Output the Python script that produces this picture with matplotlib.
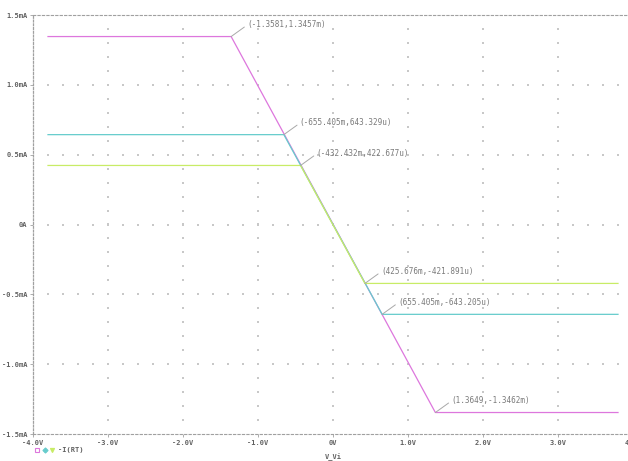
"""PSpice style DC sweep: -I(RT) versus V_Vi, three traces with cursor marks."""

import matplotlib
import numpy as np

matplotlib.use("Agg")
from matplotlib import pyplot as plt

# =========================================================================
# Dane (prad w mA, napiecie w V)
# =========================================================================

sweep_start = -3.8
sweep_end = 3.8

# punkty zalamania kazdej krzywej: (x_lewy, y_gora, x_prawy, y_dol)
trace_names = ["magenta", "cyan", "lime"]
knee_left_x = [-1.3581, -0.655405, -0.432432]
knee_left_y = [1.3457, 0.643329, 0.422677]
knee_right_x = [1.3649, 0.655405, 0.425676]
knee_right_y = [-1.3462, -0.643205, -0.421891]

left_labels = ["(-1.3581,1.3457m)", "(-655.405m,643.329u)", "(-432.432m,422.677u)"]
right_labels = ["(1.3649,-1.3462m)", "(655.405m,-643.205u)", "(425.676m,-421.891u)"]

x_ticks = [-4, -3, -2, -1, 0, 1, 2, 3, 4]
x_tick_labels = ["-4.0V", "-3.0V", "-2.0V", "-1.0V", "0V", "1.0V", "2.0V", "3.0V", "4.0V"]
y_ticks = [-1.5, -1.0, -0.5, 0, 0.5, 1.0, 1.5]
y_tick_labels = ["-1.5mA", "-1.0mA", "-0.5mA", "0A", "0.5mA", "1.0mA", "1.5mA"]

COLORS = {"magenta": "#dd77dd", "cyan": "#66cccc", "lime": "#c8ec66"}
GRAY = "#7a7a7a"
MONO = "DejaVu Sans Mono"

# =========================================================================
# Wykres
# =========================================================================

W, H = 628, 461
fig = plt.figure(figsize=(W / 100, H / 100), dpi=100, facecolor="white")
ax = fig.add_axes([33 / W, 27 / H, 600 / W, 419 / H])
ax.set_xlim(-4, 4)
ax.set_ylim(-1.5, 1.5)

# siatka z kropek
gx = np.arange(-3.8, 4.001, 0.2)
gy = np.arange(-1.4, 1.401, 0.1)
for yv in y_ticks[1:-1]:
    ax.scatter(gx, np.full_like(gx, yv), s=0.8, marker="s", color="#c8c8c8", linewidths=0, zorder=1)
for xv in x_ticks[1:-1]:
    ax.scatter(np.full_like(gy, xv), gy, s=0.8, marker="s", color="#c8c8c8", linewidths=0, zorder=1)

for name, x1, y1, x2, y2 in zip(trace_names, knee_left_x, knee_left_y, knee_right_x, knee_right_y):
    ax.plot([sweep_start, x1, x2, sweep_end], [y1, y1, y2, y2],
            color=COLORS[name], lw=0.9, zorder=3 if name != "magenta" else 2)

# opisy kursorow
arrow = dict(arrowstyle="-", color="#a8a8a8", lw=0.7, shrinkA=0, shrinkB=0, relpos=(0, 0.45))
for xs, ys, labs in ((knee_left_x, knee_left_y, left_labels), (knee_right_x, knee_right_y, right_labels)):
    for xv, yv, lab in zip(xs, ys, labs):
        ax.annotate(lab, (xv, yv), xytext=(11.5, 8.6), textcoords="offset points",
                    ha="left", va="center", fontsize=5.5, family=MONO, color=GRAY,
                    arrowprops=arrow)

# osie
for side in ("top", "bottom"):
    ax.spines[side].set_color("#a0a0a0")
    ax.spines[side].set_linestyle((0, (2, 2)))
    ax.spines[side].set_linewidth(0.8)
ax.spines["left"].set_color("#a0a0a0")
ax.spines["left"].set_linestyle((0, (1.5, 1.5)))
ax.spines["left"].set_linewidth(0.9)
ax.spines["right"].set_visible(False)

ax.set_xticks(x_ticks)
ax.set_xticklabels(x_tick_labels)
ax.set_yticks(y_ticks)
ax.set_yticklabels(y_tick_labels)
ax.tick_params(axis="both", length=2, width=0.6, color="#a0a0a0", labelcolor="#606060",
               labelsize=5, pad=2)
for t in ax.get_xticklabels() + ax.get_yticklabels():
    t.set_family(MONO)
    t.set_fontweight("bold")

fig.text(325 / W, 4 / H, "V_Vi", fontsize=5, family=MONO, fontweight="bold",
         color="#606060", ha="left", va="center")

# legenda
legend_marks = [("s", "magenta"), ("D", "cyan"), ("v", "lime")]
for i, (mk, name) in enumerate(legend_marks):
    ax.plot([(37 + 7.5 * i) / W], [(H - 450) / H], marker=mk, ms=3 if mk != "D" else 2.6,
            mfc="none" if mk == "s" else COLORS[name], mec=COLORS[name], mew=0.8,
            transform=fig.transFigure, clip_on=False, ls="none")
fig.text(58 / W, (H - 450) / H, "-I(RT)", fontsize=5, family=MONO, fontweight="bold",
         color="#606060", ha="left", va="center")

fig.savefig("out.png", dpi=100, facecolor="white")
plt.close(fig)
